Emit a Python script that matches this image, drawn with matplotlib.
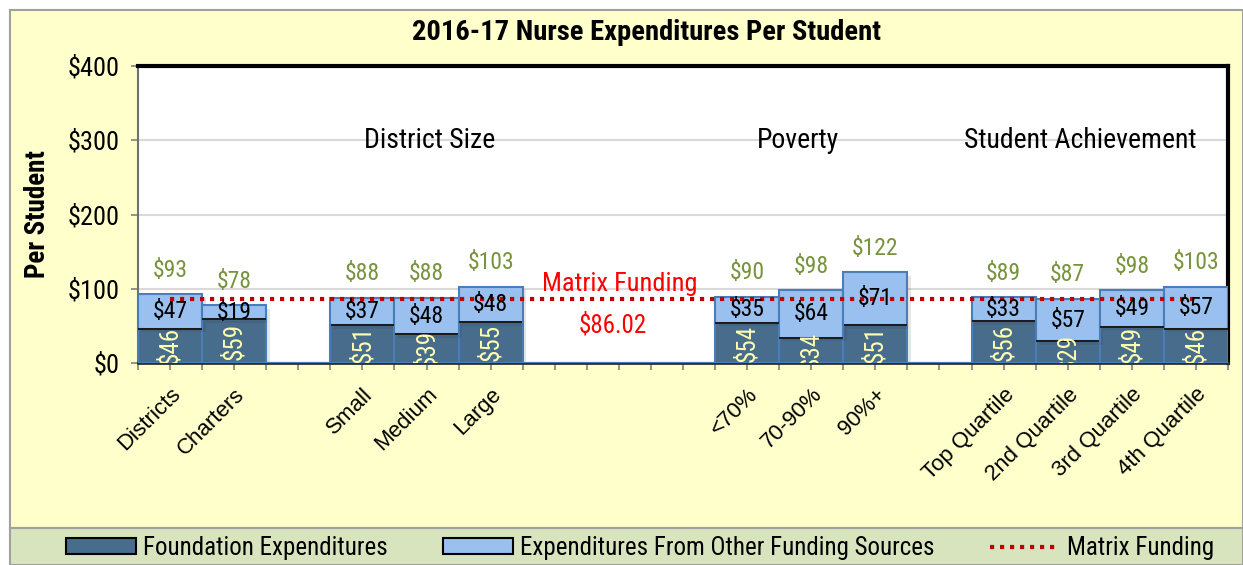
import matplotlib
matplotlib.use("Agg")
import matplotlib.pyplot as plt
import matplotlib.patheffects as pe
from matplotlib.patches import Rectangle, Patch
from matplotlib.lines import Line2D
import numpy as np

plt.rcParams['font.family'] = ['Roboto Condensed', 'PT Sans Narrow', 'Liberation Sans', 'DejaVu Sans']

# ---- data ----
categories = ["Districts", "Charters", "", "Small", "Medium", "Large", "", "", "",
              "<70%", "70-90%", "90%+", "", "Top Quartile", "2nd Quartile",
              "3rd Quartile", "4th Quartile"]
foundation = [46, 59, 0, 51, 39, 55, 0, 0, 0, 54, 34, 51, 0, 56, 29, 49, 46]
other = [47, 19, 0, 37, 48, 48, 0, 0, 0, 35, 64, 71, 0, 33, 57, 49, 57]
totals = [93, 78, None, 88, 88, 103, None, None, None, 90, 98, 122, None, 89, 87, 98, 103]
matrix_funding = 86.02
group_labels = ["District Size", "Poverty", "Student Achievement"]
group_pos = [4.05, 9.8, 14.2]
yticks = [0, 100, 200, 300, 400]

DARK = "#476C8C"
LIGHT = "#99C0EE"
EDGE = "#4A7EBB"
GREEN = "#77933C"
RED = "#C00000"
BG = "#FFFFCC"

fig = plt.figure(figsize=(12.43, 5.65), dpi=100)
fig.patch.set_facecolor("white")

# background panels
fig.patches.append(Rectangle((10/1243, 37/565), 1 - 10/1243, 1 - 47/565,
                             transform=fig.transFigure, facecolor=BG,
                             edgecolor="#A0A0A0", lw=1.5, zorder=-10))
fig.patches.append(Rectangle((10/1243, 0), 1 - 10/1243, 37/565,
                             transform=fig.transFigure, facecolor="#D7E4BD",
                             edgecolor="#A0A0A0", lw=1.5, zorder=-10))

ax = fig.add_axes([138/1243, 1 - 363/565, (1228 - 138)/1243, (363 - 66)/565])
ax.set_facecolor("white")
x = np.arange(len(categories))

shadow = [pe.SimplePatchShadow(offset=(2.5, -2.5), alpha=0.12, shadow_rgbFace="#333333"), pe.Normal()]

b1 = ax.bar(x, foundation, width=1.0, color=DARK, edgecolor=EDGE, lw=1.5, zorder=3,
            path_effects=shadow)
b2 = ax.bar(x, other, width=1.0, bottom=foundation, color=LIGHT, edgecolor=EDGE, lw=1.5,
            zorder=3, path_effects=shadow)
# dark separators at top of foundation segments
for xi, f in zip(x, foundation):
    if f > 0:
        ax.plot([xi - 0.48, xi + 0.48], [f, f], color="#1a1a1a", lw=1.4, zorder=4)

ax.plot([x[0], x[-1]], [matrix_funding, matrix_funding], color=RED, lw=3.0,
        linestyle=(0, (1, 1.4)), zorder=5)

# labels
for xi, f, o, t in zip(x, foundation, other, totals):
    if t is None:
        continue
    ax.text(xi, f / 2, f"${f}", rotation=90, ha="center", va="center", color="#FFFFB0",
            fontsize=18, zorder=6, clip_on=True)
    ax.text(xi, f + o / 2, f"${o}", ha="center", va="center", color="black",
            fontsize=17, zorder=6)
    ax.text(xi, t + 32, f"${t}", ha="center", va="center", color=GREEN,
            fontsize=17, zorder=6)

for g, gx in zip(group_labels, group_pos):
    ax.text(gx, 299, g, ha="center", va="center", fontsize=20, color="black", zorder=6)

ax.text(7.02, 107, "Matrix Funding", ha="center", va="center", color="#FF0000", fontsize=19, zorder=6)
ax.text(6.9, 51, f"${matrix_funding:.2f}", ha="center", va="center", color="#FF0000", fontsize=18, zorder=6)

ax.set_xlim(-0.5, len(categories) - 0.5)
ax.set_ylim(0, 400)
ax.set_yticks(yticks)
ax.set_yticklabels([f"${v}" for v in yticks], fontsize=19)
ax.yaxis.grid(True, color="#D9D9D9", lw=1.5, zorder=0)
ax.set_axisbelow(True)
ax.set_xticks(x)
ax.set_xticklabels(categories, rotation=45, ha="right", rotation_mode="anchor",
                   fontsize=16, family=['Liberation Sans', 'DejaVu Sans'])
ax.set_xticks(np.arange(-0.5, len(categories), 1.0), minor=True)
ax.tick_params(axis="x", which="both", length=5, color="#808080", width=1.2, pad=10)
ax.tick_params(axis="y", length=5, color="#808080", width=1.2, pad=8)
ax.set_ylabel("Per Student", fontsize=19.5, fontweight="bold", labelpad=12)

for s in ["top", "right"]:
    ax.spines[s].set_color("black")
    ax.spines[s].set_linewidth(3)
ax.spines["left"].set_color("#707070")
ax.spines["left"].set_linewidth(1.5)
ax.spines["bottom"].set_color("#303030")
ax.spines["bottom"].set_linewidth(2)

fig.text(646/1243, 1 - 32/565, "2016-17 Nurse Expenditures Per Student", ha="center",
         va="center", fontsize=20.5, fontweight="bold")

handles = [Patch(facecolor=DARK, edgecolor="black", lw=1.5),
           Patch(facecolor=LIGHT, edgecolor="black", lw=1.5),
           Line2D([0], [0], color=RED, lw=3.0, linestyle=(0, (1, 1.4)))]
labels = ["Foundation Expenditures", "Expenditures From Other Funding Sources", "Matrix Funding"]
fig.legend(handles, labels, loc="center", bbox_to_anchor=(640/1243, 17/565), ncol=3,
           frameon=False, fontsize=18, handlelength=2.8, handleheight=0.6,
           handletextpad=0.3, columnspacing=2.2)

fig.savefig("out.png", dpi=100, facecolor=fig.get_facecolor())
